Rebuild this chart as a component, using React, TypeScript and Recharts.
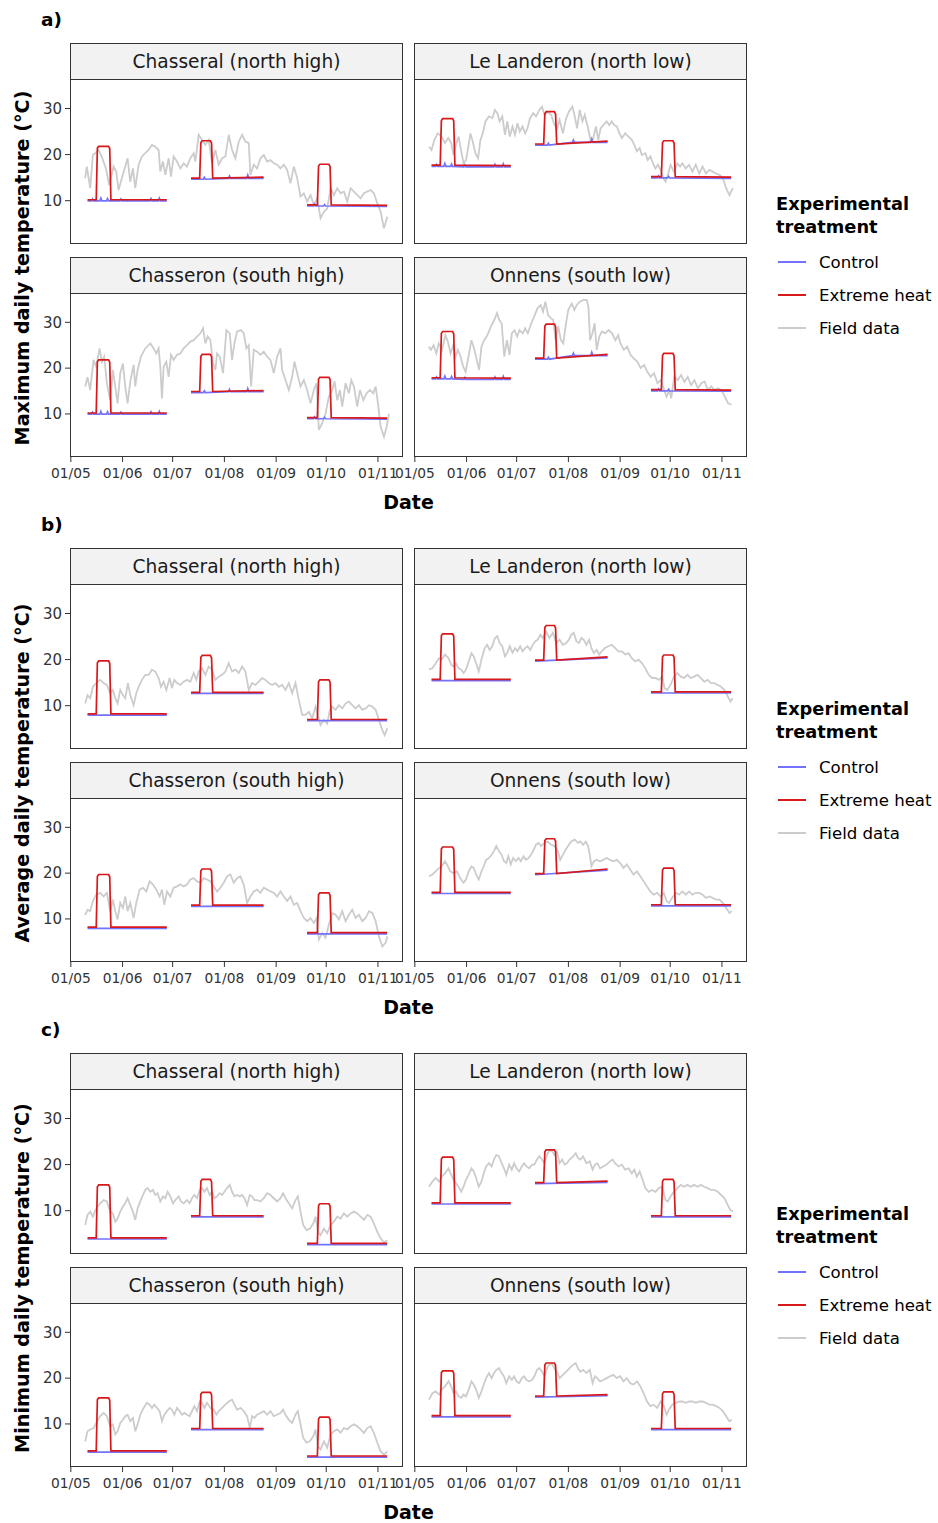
import React from "react";
import { LineChart, Line, XAxis, YAxis } from "recharts";

const FONT = "'DejaVu Sans', Verdana, sans-serif";

// ---------- axes ----------
const MONTH_TICKS = [0, 31, 61, 92, 123, 153, 184]; // days since 1 May
const MONTH_LABELS = ["01/05", "01/06", "01/07", "01/08", "01/09", "01/10", "01/11"];
const Y_TICKS = [10, 20, 30];
const X_DOMAIN: [number, number] = [-0.5, 199];
const Y_DOMAIN: [number, number] = [0.6, 36.4];

// ---------- labels ----------
const SITES = ["Chasseral (north high)", "Le Landeron (north low)", "Chasseron (south high)", "Onnens (south low)"];
const SECTION_TAGS = ["a)", "b)", "c)"];
const Y_TITLES = ["Maximum daily temperature (°C)", "Average daily temperature (°C)", "Minimum daily temperature (°C)"];
const LEGEND_TITLE = ["Experimental", "treatment"];
const SERIES_NAMES = ["Control", "Extreme heat", "Field data"];
const SERIES_COLORS = ["#7272ff", "#d7191c", "#cccccc"];

// ---------- experimental blocks (days since 1 May) ----------
const BLOCK_START = [10, 72, 141.5];
const BLOCK_END = [57.5, 115.5, 189.5];
const PULSE_ON = [15.5, 77.5, 148];
const PULSE_OFF = [24, 85, 156];

// per site: for each block [level at start, level at end, heat peak]
const MAX_LEVELS = [
  [[10.1, 10.1, 21.8], [14.8, 15.0, 23.0], [9.0, 8.9, 17.9]],
  [[17.6, 17.5, 27.8], [22.2, 22.8, 29.3], [15.1, 15.0, 23.0]],
  [[10.1, 10.1, 21.8], [14.8, 15.0, 23.0], [9.1, 9.0, 18.0]],
  [[17.8, 17.7, 28.0], [22.1, 22.9, 29.6], [15.2, 15.1, 23.2]],
];
const AVG_LEVELS = [
  [[8.1, 8.1, 19.7], [12.8, 12.8, 20.9], [6.9, 6.9, 15.6]],
  [[15.6, 15.6, 25.6], [19.8, 20.5, 27.4], [12.9, 12.9, 21.0]],
  [[8.1, 8.1, 19.7], [12.9, 12.9, 20.9], [6.9, 6.9, 15.7]],
  [[15.7, 15.7, 25.7], [19.8, 20.8, 27.5], [13.0, 13.0, 21.1]],
];
const MIN_LEVELS = [
  [[4.0, 4.0, 15.6], [8.8, 8.8, 16.8], [2.8, 2.8, 11.5]],
  [[11.6, 11.6, 21.6], [16.0, 16.3, 23.2], [8.8, 8.8, 16.8]],
  [[4.0, 4.0, 15.7], [8.9, 8.9, 16.9], [2.9, 2.9, 11.5]],
  [[11.7, 11.7, 21.6], [16.0, 16.3, 23.3], [8.9, 8.9, 17.0]],
];
// small day-to-day bumps of the control chambers in the maximum-temperature panels [day, °C above level]
const MAX_CONTROL_BUMPS = [[13, 0.4], [18, 0.6], [22, 0.5], [30, 0.4], [48, 0.5], [53, 0.6], [80, 0.4], [95, 0.5], [106, 0.7], [146, 0.4], [152, 0.3]];

// ---------- field data [day since 1 May, °C] ----------
const FIELD_MAX_CHASSERAL = [[8.6,14.9],[9.6,17.4],[11.6,12.7],[13.2,19.9],[14.6,20.3],[16.6,21],[18.6,19.5],[21,17],[23,13.4],[25.6,17.4],[27.2,16.3],[28.6,12.3],[30.6,14.9],[32.6,17.4],[34,19.2],[35.6,14.1],[37.2,17],[38.6,12.7],[40.6,17.8],[42.6,19.6],[44.6,20.3],[46.6,21],[48.6,22.1],[50.6,21.7],[52.6,21],[53.6,16.3],[55.2,18.5],[56.6,15.6],[58.6,19.2],[60,15.2],[61.6,19.6],[63.6,18.5],[65.6,17],[67.6,18.1],[69.6,17.4],[71.6,19.2],[73.6,20.3],[74.6,18.5],[76.6,24.3],[78.6,23.2],[80.6,22.1],[82.6,23.2],[84.6,18.1],[86.6,21],[88.6,17.8],[90.6,19.2],[92.6,19.6],[94.6,24.3],[96.6,21],[98.6,19.2],[100.6,22.8],[102.6,24.3],[104.6,22.8],[106.6,22.5],[107.6,15.6],[109.6,17.8],[111.6,17],[113.6,19.2],[115.6,19.9],[117.6,18.5],[119.6,18.8],[121.6,18.1],[123.6,17.8],[125.6,17],[127.6,17.8],[129.6,16.7],[131.6,13.8],[133.6,17.4],[135.6,14.9],[137.6,10.9],[139.6,11.6],[141.6,9.8],[143.6,11.2],[145.6,9.1],[147.6,10.5],[149.6,6.2],[151.6,7.6],[153.6,8.3],[155.6,12.7],[157.6,11.2],[159.6,12.7],[161.6,11.6],[163.6,12],[165.6,9.8],[167.6,12.7],[170.6,11.6],[173.6,10.5],[175.6,11.6],[177.6,12],[179.6,12.3],[181.6,11.6],[183.6,9.4],[185.6,7.6],[187.6,4],[189.6,6.5]];
const FIELD_MAX_LANDERON = [[8.5,21.7],[10,21],[11.7,23.2],[13.7,24.6],[16,23.9],[18,22.5],[20,23.6],[21.8,22.5],[23.2,19.9],[24.6,22.1],[26.2,23.9],[27.8,20.7],[29.2,18.1],[30.7,18.8],[31.9,21.4],[33.3,24.6],[34.7,22.8],[36.3,20.3],[37.9,19.2],[39.3,23.2],[40.7,24.6],[42.3,27.2],[44.4,28.3],[46.4,27.9],[48,29.7],[49.4,29],[50.8,27.2],[52.4,28.3],[54,24.3],[55.4,27.2],[56.9,23.9],[58.5,26.1],[60,24.3],[61.5,26.8],[62.9,25],[64.5,26.1],[66.1,24.6],[67.5,25.7],[69,27.9],[71,29],[72.6,28.3],[74.6,29.7],[76.2,30.4],[77.6,28.6],[79.6,29.3],[81.7,28.6],[83.7,26.4],[85.3,25.7],[86.7,27.5],[88.7,24.6],[90.7,27.9],[92.3,29.3],[94.4,30.4],[95.8,28.3],[97.2,25.7],[98.8,29.7],[100.4,27.2],[101.8,28.6],[103.8,25.7],[105.4,22.8],[106.9,23.6],[108.5,26.1],[109.9,23.2],[111.3,25.7],[112.9,26.4],[114.9,27.2],[116.5,26.4],[118,27.2],[119.4,26.4],[121,26.1],[122.6,24.6],[124,23.6],[126,24.6],[128,23.9],[130,23.2],[131.5,22.1],[133,20.7],[134.7,21.4],[136,19.9],[138.1,20.3],[139.5,18.8],[141.1,19.6],[142.7,18.1],[144.1,17],[145.6,17.8],[147.2,16.7],[148.8,14.9],[150.2,14.1],[151.6,15.6],[153.2,17.8],[155.2,16.3],[157.3,18.1],[158.9,17.4],[160.3,18.1],[162.3,17],[164.3,17.8],[166.3,16.3],[168.3,17.8],[170.4,15.9],[172.4,17.4],[174.4,15.9],[176.4,16.7],[178.4,16.3],[180.4,15.9],[182.5,15.6],[184.5,14.9],[186.5,12.7],[188.5,11.2],[190.5,12.7]];
const FIELD_MAX_CHASSERON = [[8.6,16],[10,18],[11.6,15.2],[13.6,21.8],[15.2,20.3],[17.2,24.3],[18.6,21.4],[20,22.5],[21.6,16.7],[23.6,13],[25.2,19.6],[26.6,16],[28,12.3],[29.6,18.9],[31.2,21],[32.6,16],[34,12.3],[35.6,17],[37.6,20.7],[38.6,16],[40,19.6],[42,22.5],[44.6,24.3],[47.6,25.4],[49.6,24.3],[51.2,23.2],[52.6,24.3],[53.6,20.3],[54.6,13.4],[55.6,20.3],[57.2,21.4],[58.6,18.1],[60,22.9],[61.6,21.8],[63.6,22.9],[65.6,23.2],[67.6,24.3],[69.6,25],[71.6,25.8],[73.6,26.1],[75.6,26.9],[77.6,27.6],[79.2,28.7],[80.6,25.4],[82,26.9],[83.6,26.1],[85.2,21],[86.6,19.6],[87.6,23.2],[89.2,22.5],[91.2,18.9],[93.2,28.3],[95.2,27.6],[96.6,21.8],[98,25.4],[99.6,28],[102,28.3],[103.6,27.6],[105.2,24.3],[106.6,25],[108,16],[109.6,24],[111.6,23.6],[113.6,22.9],[115.6,23.6],[117.6,22.5],[119.6,21.8],[121.6,18.9],[123.6,22.5],[125.6,24.3],[126.6,19.6],[128.6,17.4],[130.6,15.2],[132.6,18.1],[134,21.4],[135.6,18.9],[137.6,16],[139.6,17.4],[141.6,15.2],[143.6,12.3],[145.6,15.2],[147.2,16.7],[148.6,6.5],[150.6,8],[152.6,10.1],[154.6,13.8],[156.6,15.2],[158,17.1],[159.6,13],[161.2,15.2],[162.6,11.6],[164.6,16.7],[166.6,14.5],[168,17.4],[169.6,16],[171.6,11.6],[173.2,15.2],[175.2,13],[177.2,14.5],[179.2,15.2],[181.2,14.5],[182.6,16],[184,12.3],[185.6,7.2],[187.6,5],[189.2,7.2],[190.6,10]];
const FIELD_MAX_ONNENS = [[8.3,24.7],[9.7,24],[11.3,25],[12.9,23.2],[14.3,25.4],[16.3,24],[18.3,27.2],[19.8,25.8],[21.4,23.2],[23,25],[24.4,22.5],[25.8,24],[27.4,22.5],[29,20.3],[30.4,19.2],[32.5,23.2],[33.9,26.1],[35.5,24.3],[37.1,21.8],[38.5,19.6],[39.9,24.7],[41.5,26.1],[43.5,27.2],[45.6,29.1],[47.6,30.5],[49.2,32],[50.6,30.5],[52,29.8],[53.6,22.5],[55.2,26.1],[56.7,22.9],[58.1,27.6],[59.7,28.3],[61.3,26.9],[62.7,28.3],[64.7,27.6],[66.1,28.7],[67.7,27.6],[69.8,29.8],[71.4,31.2],[73.4,33],[75.4,33.8],[76.8,32.3],[78.2,34.5],[79.8,31.6],[81.5,30.9],[82.9,30.5],[84.3,26.1],[85.9,29.1],[87.5,26.1],[88.9,25.4],[90.3,29.1],[91.9,32.7],[94,34.1],[95.6,32.7],[97,33.8],[99,34.5],[101,34.9],[103,34.9],[104,33.4],[105,26.1],[106.4,27.6],[107.7,29.8],[109,24],[110.5,26.9],[112.1,28],[114.1,27.6],[116.1,28.3],[118.1,27.6],[120.2,26.1],[121.8,27.2],[123.2,25.4],[125.2,24],[127.2,24.7],[129.2,22.9],[131.3,22.1],[133.3,21.4],[135.3,20],[137.3,20.7],[139.3,19.2],[141.3,18.1],[143.3,18.9],[145.4,16.7],[147.4,17.4],[149.4,15.2],[150.8,13.8],[152.4,15.2],[153.6,13.4],[155.4,18.1],[157.5,17.4],[159.5,18.5],[161.5,17],[163.5,18.1],[165.5,16.3],[167.5,17.4],[169.6,15.6],[171.6,16.7],[173.6,17.1],[175.6,15.2],[177.6,16],[179.6,15.2],[181.7,15.6],[183.7,15.2],[185.7,13.8],[187.7,12.3],[189.7,12]];

const FIELD_AVG_CHASSERAL = [[8.6,10.5],[10,12.3],[11.6,11.6],[13.2,14.1],[15.2,14.9],[17.6,15.6],[19.6,14.9],[21.6,14.5],[23.6,12.7],[25.2,13.4],[26.6,11.6],[28,10.5],[29.6,13.4],[31.2,12.3],[32.6,11.6],[34.2,14.9],[35.6,12.3],[37.6,10.1],[39.2,12.7],[40.6,14.1],[42.6,15.6],[44.6,16.7],[46.6,16.7],[48.6,17.8],[50.6,17.4],[52.6,16],[54,14.1],[55.6,15.2],[57.2,13.4],[59.2,16],[60.6,13.8],[62,15.6],[63.6,14.9],[65.6,14.5],[67.6,15.2],[69.6,15.6],[71.6,15.2],[73.6,17.1],[75.2,15.6],[76.6,17.4],[78.6,18.1],[80.6,16.7],[82.6,18.5],[84.6,17.8],[86.6,15.6],[88.6,16.3],[90.6,16.7],[92.6,17.4],[94.6,19.2],[96.6,17.4],[98.6,17.8],[100.6,17.1],[102.6,18.5],[104.6,17.4],[106.6,13.4],[108.6,14.9],[110.6,14.5],[112.6,15.2],[114.6,16],[116.6,15.6],[118.6,14.9],[120.6,14.5],[122.6,14.9],[124.6,14.1],[126.6,14.5],[128.6,13.4],[130.6,14.9],[132.6,12.7],[134.6,14.9],[136.6,11.2],[138.6,8],[140.6,8],[142.6,8.7],[144.6,7.2],[146.6,9.8],[148,8],[149.6,5.8],[151.6,6.9],[153.6,6.1],[155.2,9.1],[156.6,9.8],[158.6,9.1],[160.6,10.1],[162.6,9.4],[164.6,10.5],[166.6,10.9],[168.6,10.1],[170.6,9.4],[172.6,10.1],[174.6,9.1],[176.6,9.4],[178.6,10.1],[180.6,9.8],[182.6,9.1],[184.6,6.9],[186.6,4.7],[188,3.6],[189.6,5.1]];
const FIELD_AVG_LANDERON = [[8.5,17.9],[10.5,18.1],[12.5,19.2],[14.5,20.3],[16.1,20],[18.1,21.1],[20.2,20.3],[21.8,18.9],[23.2,18.5],[24.6,19.2],[26.2,18.1],[27.8,17.8],[29.2,17.1],[30.6,17.8],[32.3,19.6],[33.9,21.4],[35.3,20.7],[36.7,19.2],[38.3,17.4],[39.9,20],[41.9,22.5],[43.3,23.2],[44.8,22.1],[46.4,22.9],[48,24.7],[49.4,25.1],[50.8,23.6],[52.4,22.9],[54,20.7],[55.4,21.5],[56.9,22.9],[58.5,21.5],[60.1,22.5],[61.5,21.8],[63.1,22.9],[64.5,21.8],[66.1,22.5],[67.5,22.9],[69.2,22.1],[70.6,23.2],[72.2,24],[73.6,24.3],[75.2,25.4],[76.6,24.7],[78.6,26.1],[80.6,24.7],[82.7,25.8],[84.7,23.6],[86.7,24.3],[88.7,23.2],[90.7,23.6],[92.3,24.3],[93.8,25.4],[95.2,25.8],[96.8,24],[98.4,23.6],[99.8,24.7],[101.2,24.3],[102.8,23.2],[104.4,24.3],[105.8,22.5],[107.3,21.4],[108.9,22.1],[110.5,21.1],[111.9,21.8],[113.9,22.5],[115.9,22.9],[118,23.2],[120,22.5],[122,21.8],[124,21.8],[126,21.1],[128,21.4],[130,20.3],[132,19.6],[134.1,20],[136.1,19.2],[138.1,18.1],[140.1,16.7],[142.1,16],[144.2,16],[146.2,15.6],[148.2,16.3],[149.6,13.8],[151.2,13.4],[153.2,14.5],[155.2,16.3],[157.3,17.1],[159.3,16.3],[161.3,16],[163.3,16.7],[165.3,16],[167.3,16.3],[169.4,16.7],[171.4,16],[173.4,15.2],[175.4,15.6],[177.4,14.9],[179.4,14.9],[181.5,14.5],[183.5,14.1],[185.5,13.4],[187.5,12],[189.1,10.9],[190.5,11.6]];
const FIELD_AVG_CHASSERON = [[8.6,10.9],[10,12],[11.6,11.7],[13.2,13.9],[15.2,15.3],[17.6,15.7],[19.6,14.9],[21.6,15.7],[23.6,11.7],[25.2,14.2],[26.6,11.7],[28,9.9],[29.6,13.5],[31.2,12.4],[32.6,14.9],[34,11.7],[35.6,13.5],[37.6,10.2],[39.2,13.5],[41.2,16.4],[43.2,16.8],[45.2,16],[47.2,18.2],[49.2,17.5],[51.2,16.4],[53.2,14.9],[54.6,16.4],[56,13.1],[57.6,16],[59.6,14.9],[61.6,16.8],[63.6,17.1],[65.6,17.5],[67.6,17.1],[69.6,17.5],[71.6,18.6],[73.6,18.9],[75.6,18.2],[77.6,17.9],[79.6,18.9],[81.6,18.6],[83.6,18.2],[85.6,17.1],[87.6,16],[89.6,16.8],[91.6,17.9],[93.6,19.3],[95.6,19.7],[97.6,17.9],[99.6,18.9],[101.6,19.3],[103.6,17.5],[105.6,13.5],[107.6,14.9],[109.6,16],[111.6,16.4],[113.6,15.7],[115.6,16.8],[117.6,16.4],[119.6,16],[121.6,15.7],[123.6,14.9],[125.6,16],[127.6,14.9],[129.6,13.9],[131.6,14.9],[133.6,13.1],[135.6,13.5],[137.6,11.7],[139.6,10.2],[141.6,9.5],[143.6,10.2],[145.6,9.1],[147.2,10.2],[148.6,5.5],[150.6,6.9],[152.6,5.9],[154.6,8.8],[156.6,11.3],[158.6,10.9],[160.6,9.9],[162.6,11.7],[164.6,9.5],[166.6,10.9],[168.6,12],[170.6,10.2],[172.6,10.9],[174.6,9.5],[176.6,10.2],[178.6,11.7],[180.6,11.3],[182.6,9.5],[184.6,6.2],[186.6,4],[188.6,4.8],[189.6,6.2]];
const FIELD_AVG_ONNENS = [[8.5,19.3],[10.5,19.7],[12.5,20.4],[14.5,21.1],[16.1,21.5],[18.1,22.6],[19.8,21.5],[21.2,20.4],[23.2,20],[25.2,20.4],[27.2,18.9],[29.2,17.9],[30.6,18.6],[32.3,20.4],[33.9,21.5],[35.3,21.1],[36.7,19.7],[38.3,18.6],[39.9,20.4],[41.3,21.5],[42.7,22.9],[44.4,23.3],[46,24],[47.4,24.8],[48.8,25.9],[50.4,24.8],[52,24],[53.4,22.6],[54.8,22.2],[56,23.7],[57.5,21.9],[58.9,23.3],[60.5,22.6],[62.1,23.3],[63.5,22.6],[65.1,23.7],[66.5,22.9],[68.1,23.3],[69.6,24],[71.2,25.1],[72.6,26.2],[74.2,26.6],[75.6,25.9],[77.6,26.6],[79.6,26.9],[81.7,26.2],[83.7,25.9],[85.7,24.8],[87.1,22.9],[88.7,24],[90.3,25.1],[92.3,26.2],[93.7,26.9],[95.8,27.3],[97.8,26.6],[99.2,26.9],[100.8,26.2],[102.4,26.9],[103.8,25.9],[104.8,24],[105.8,21.5],[107.3,22.6],[108.9,22.9],[110.9,22.6],[112.9,22.9],[114.9,23.3],[116.9,22.9],[119,22.6],[121,22.9],[123,22.2],[125,21.1],[127,21.9],[129,20.8],[131,19.7],[133.1,20.4],[135.1,19.3],[137.1,18.2],[139.1,17.1],[141.1,16],[143.1,15.3],[145.2,15.7],[147.2,14.9],[149.2,15.7],[150.8,13.9],[152.2,13.5],[154.2,14.6],[156.3,15.7],[158.3,15.3],[160.3,16],[162.3,15.3],[164.3,16],[166.3,15.3],[168.3,15.7],[170.4,15.7],[172.4,15.3],[174.4,14.6],[176.4,14.9],[178.4,14.6],[180.4,14.2],[182.5,14.2],[184.5,13.5],[186.5,12.4],[188.5,11.3],[189.9,11.7]];

const FIELD_MIN_CHASSERAL = [[8.6,6.9],[10,9.1],[11.6,9.8],[13.2,8.7],[15.2,10.5],[17.6,11.6],[19.6,12.3],[21.6,12],[23.6,9.8],[25.2,9.4],[26.6,7.6],[28,8.3],[29.6,9.8],[31.2,10.9],[32.6,11.6],[34,12.7],[35.6,11.2],[37.2,9.8],[38.6,8],[40,10.5],[41.6,12],[43.2,13.4],[44.6,14.5],[46,14.9],[47.6,14.1],[49.2,14.5],[50.6,13.4],[52,13.8],[53.6,12],[55.2,13.1],[56.6,12.7],[58,14.1],[59.6,13.1],[61.2,11.6],[62.6,12.3],[64.6,13.1],[66,12],[67.6,11.6],[69.6,12.3],[71.2,11.6],[72.6,12.7],[74,13.4],[75.6,12.7],[77.2,14.5],[78.6,14.9],[80,14.1],[81.6,14.9],[83.2,13.4],[84.6,14.1],[86,12.7],[87.6,13.1],[89.2,13.8],[90.6,13.4],[92,14.1],[93.6,14.9],[95.2,15.6],[96.6,14.1],[98,13.1],[99.6,13.4],[101.2,13.1],[102.6,13.4],[104,12.7],[105.6,11.2],[107.2,13.4],[108.6,13.1],[110,12.3],[111.6,12.3],[113.6,12],[115.6,12.7],[117.6,13.8],[119.6,13.4],[121.6,12.7],[123.6,12],[125.6,12.7],[127.2,13.8],[128.6,12.7],[130.6,11.6],[132.6,10.5],[134.6,12.3],[136,13.1],[137.6,9.8],[139.2,6.9],[141.2,5.8],[143.2,6.1],[145.2,7.2],[146.6,8.7],[148,5.4],[149.6,4.7],[151.6,6.1],[153.6,5.1],[155.6,6.9],[157.6,7.6],[159.6,8.7],[161.6,8.3],[163.6,9.4],[165.6,8.7],[167.6,9.4],[169.6,9.8],[171.6,9.4],[173.6,8.7],[175.6,8],[177.6,9.1],[179.6,8.7],[181.6,7.2],[183.6,5.4],[185.6,4],[187.6,3.1],[189.6,3.6]];
const FIELD_MIN_LANDERON = [[8.5,15.2],[10.5,16.3],[12.5,17.1],[14.5,16.3],[16.1,17.4],[18.1,18.1],[20.2,19.2],[21.8,17.8],[23.2,16.7],[24.6,16],[26.2,15.2],[27.8,14.1],[29.2,15.2],[30.6,16.7],[32.3,17.8],[33.9,19.2],[35.3,18.5],[36.7,17.1],[38.3,15.2],[39.9,16.3],[41.3,18.1],[42.7,19.6],[44.4,20.3],[46,19.6],[47.4,21.1],[48.8,22.1],[50.4,21.8],[52,20.3],[53.4,19.2],[54.8,17.8],[56.5,20],[58.1,18.9],[59.5,20.3],[60.9,19.2],[62.5,18.5],[64.1,19.6],[65.5,20.3],[66.9,19.6],[68.5,19.2],[70.2,20],[71.6,20],[73.2,21.1],[74.6,21.8],[76.2,21.1],[77.6,20.3],[79.6,22.5],[81.7,23.2],[83.7,22.1],[85.1,22.9],[86.7,20.3],[88.3,21.1],[89.7,20],[91.1,20.3],[92.7,21.1],[94.8,21.8],[96.4,22.5],[97.8,21.4],[99.2,21.1],[100.8,21.8],[102.8,20.3],[104.8,20.7],[106.5,18.9],[107.9,20],[109.3,20.3],[110.9,19.2],[112.9,19.6],[114.9,20],[116.9,20.7],[118.5,21.1],[119.9,20.3],[122,19.6],[124,20],[126,18.9],[128,19.2],[130,18.1],[131.5,18.9],[133,17.4],[134.7,18.5],[136.1,17.1],[138.1,14.9],[140.1,14.1],[142.1,14.5],[144.2,14.1],[146.2,14.9],[148.2,15.2],[150.2,12.3],[151.6,12],[153.2,13.1],[155.2,14.1],[157.3,14.9],[159.3,15.6],[161.3,15.2],[163.3,15.6],[165.3,15.2],[167.3,15.6],[169.4,15.2],[171.4,15.6],[173.4,15.2],[175.4,14.9],[177.4,14.5],[179.4,14.5],[181.5,14.1],[183.5,13.4],[185.5,12.7],[187.5,11.2],[189.1,10.1],[190.5,9.8]];
const FIELD_MIN_CHASSERON = [[8.6,6.2],[10,8.4],[11.6,8.8],[13.6,9.1],[15.2,10.2],[17.6,11.7],[19.6,12.4],[21.6,11.7],[23.6,9.5],[25.2,9.9],[26.6,7.7],[28,8.4],[29.6,10.2],[31.2,10.9],[32.6,11.7],[34,12],[35.6,10.6],[37.2,11.3],[38.6,8.4],[40,9.9],[41.6,12],[43.6,13.5],[45.6,14.6],[47.2,14.2],[48.6,13.5],[50,14.2],[51.6,13.5],[53.2,12.8],[54.6,10.6],[56,12],[57.6,12.8],[59.2,13.5],[60.6,13.1],[62,12],[63.6,13.5],[65.2,12.8],[66.6,12],[68,12.4],[69.6,12],[71.2,11.7],[72.6,12.8],[74,13.9],[75.6,12.8],[77.2,14.9],[78.6,14.6],[80,13.5],[81.6,14.6],[83.6,13.5],[85.6,13.1],[87.2,12],[88.6,12.8],[90.6,13.5],[92.6,14.2],[94.6,14.9],[96.6,15.3],[98,14.2],[99.6,13.1],[101.6,13.5],[103.6,12.8],[105.6,11.7],[107.2,9.1],[108.6,11.7],[110,11.3],[111.6,12],[113.6,12.4],[115.6,12.8],[117.6,12],[119.6,12.8],[121.6,11.7],[123.6,12],[125.6,12.4],[127.2,13.1],[128.6,12],[130.6,10.9],[132.6,10.2],[134.6,12],[136,12.8],[137.6,9.9],[139.2,7],[141.2,5.9],[143.2,6.2],[145.2,7.3],[146.6,8.8],[148,5.1],[149.6,4.4],[151.6,6.2],[153.6,4.8],[155.6,7.7],[157.6,8.4],[159.6,8.8],[161.6,8.1],[163.6,9.1],[165.6,8.8],[167.6,9.5],[169.6,9.9],[171.6,9.5],[173.6,8.8],[175.6,8],[177.6,9.1],[179.6,9.5],[181.6,8],[183.6,5.9],[185.6,4],[187.6,3.3],[189.6,4]];
const FIELD_MIN_ONNENS = [[8.5,15.3],[10.5,16.7],[12.5,17.1],[14.5,16.4],[16.1,17.5],[18.1,18.2],[20.2,19.3],[21.8,18.2],[23.2,16.7],[24.6,17.1],[26.2,16],[27.8,15.7],[29.2,16.4],[30.6,16],[32.3,17.5],[33.9,19.3],[35.3,18.6],[36.7,17.5],[38.3,15.7],[39.9,17.1],[41.3,18.6],[42.7,20],[44.4,21.1],[46,20],[47.4,21.1],[48.8,21.8],[50.4,22.2],[52,21.1],[53.4,20.4],[54.8,18.9],[56.5,20.4],[58.1,19.6],[59.5,20.4],[60.9,19.3],[62.5,18.9],[64.1,20],[65.5,20.4],[66.9,19.6],[68.5,19.3],[70.2,19.6],[71.6,20.4],[73.2,21.8],[74.6,22.2],[76.2,21.4],[77.6,20.4],[79.6,22.5],[81.7,23.3],[83.7,22.1],[85.1,21.4],[86.7,20],[88.7,20.7],[90.7,21.4],[92.7,22.2],[94.8,22.9],[96.4,23.3],[97.8,22.1],[99.2,21.4],[100.8,21.8],[102.8,21.1],[104.8,21.8],[106.5,18.9],[107.9,20.4],[109.3,20],[110.9,19.3],[112.9,19.6],[114.9,20],[116.9,20.4],[118.9,20.7],[121,20],[123,20.4],[125,19.3],[127,20],[129,18.9],[131,18.6],[133.1,19.3],[135.1,18.2],[137.1,16.7],[139.1,14.9],[141.1,13.9],[143.1,14.2],[145.2,13.5],[147.2,14.9],[149.2,13.9],[150.8,12],[152.2,13.1],[154.2,14.2],[156.3,14.6],[158.3,14.9],[160.3,14.9],[162.3,14.6],[164.3,14.9],[166.3,14.9],[168.3,14.6],[170.4,14.9],[172.4,14.9],[174.4,14.6],[176.4,14.2],[178.4,14.2],[180.4,13.9],[182.5,13.5],[184.5,12.8],[186.5,11.7],[188.5,10.6],[189.9,10.9]];

const SECTION_FIELDS = [
  [FIELD_MAX_CHASSERAL, FIELD_MAX_LANDERON, FIELD_MAX_CHASSERON, FIELD_MAX_ONNENS],
  [FIELD_AVG_CHASSERAL, FIELD_AVG_LANDERON, FIELD_AVG_CHASSERON, FIELD_AVG_ONNENS],
  [FIELD_MIN_CHASSERAL, FIELD_MIN_LANDERON, FIELD_MIN_CHASSERON, FIELD_MIN_ONNENS],
];
const SECTION_LEVELS = [MAX_LEVELS, AVG_LEVELS, MIN_LEVELS];
const SECTION_BUMPS = [MAX_CONTROL_BUMPS, [], []];

type Pt = { x: number; y: number | null };

function buildControl(levels: number[][], bumps: number[][]): Pt[] {
  const out: Pt[] = [];
  levels.forEach((lv, b) => {
    const base = (x: number) => (x < PULSE_OFF[b] ? lv[0] : lv[1]) - 0.15;
    out.push({ x: BLOCK_START[b], y: lv[0] - 0.15 });
    bumps
      .filter(([d]) => d > BLOCK_START[b] + 1 && d < BLOCK_END[b] - 1)
      .forEach(([d, h]) => {
        out.push({ x: d - 0.6, y: base(d) });
        out.push({ x: d, y: base(d) + h });
        out.push({ x: d + 0.6, y: base(d) });
      });
    out.push({ x: BLOCK_END[b], y: lv[1] - 0.15 });
    out.push({ x: BLOCK_END[b] + 1, y: null });
  });
  return out;
}

function buildHeat(levels: number[][]): Pt[] {
  const out: Pt[] = [];
  levels.forEach((lv, b) => {
    const [l0, l1, pk] = lv;
    out.push({ x: BLOCK_START[b], y: l0 + 0.1 });
    out.push({ x: PULSE_ON[b] - 0.3, y: l0 + 0.1 });
    out.push({ x: PULSE_ON[b] + 0.4, y: pk - 0.4 });
    out.push({ x: PULSE_ON[b] + 1.2, y: pk });
    out.push({ x: PULSE_OFF[b] - 1.4, y: pk });
    out.push({ x: PULSE_OFF[b] - 0.7, y: pk - 0.5 });
    out.push({ x: PULSE_OFF[b], y: l0 + 0.1 });
    out.push({ x: BLOCK_END[b], y: l1 + 0.1 });
    out.push({ x: BLOCK_END[b] + 1, y: null });
  });
  return out;
}

const toPts = (arr: number[][]): Pt[] => arr.map(([x, y]) => ({ x, y }));

// ---------- layout ----------
const SECTION_TOP = [0, 505, 1010];
const COL_LEFT = [70, 414];
const PANEL_W = 333;
const ROW_TOP = [79, 293];
const PANEL_H = [165, 164];
const STRIP_H = 37;
const Y_AXIS_W = 40;
const X_AXIS_H = 32;
const RIGHT_PAD = 24;
const INK = "#333333";

function Facet({ field, levels, bumps, col, row, top }: any) {
  const showY = col === 0;
  const showX = row === 1;
  const yw = showY ? Y_AXIS_W : 0;
  const padL = showY ? 0 : RIGHT_PAD;
  const xh = showX ? X_AXIS_H : 0;
  const lead = yw + padL;
  const w = PANEL_W + lead;
  const h = PANEL_H[row] + xh;
  const tickStyle = { fill: INK, fontSize: 13.8, fontFamily: FONT };
  return (
    <div style={{ position: "absolute", left: COL_LEFT[col] - lead, top, width: w, height: h }}>
      <LineChart width={w} height={h} margin={{ top: 0, right: 0, bottom: 0, left: padL }} style={{ overflow: "visible" }}>
        <XAxis
          type="number"
          dataKey="x"
          domain={X_DOMAIN}
          ticks={MONTH_TICKS}
          allowDataOverflow
          hide={!showX}
          height={xh}
          interval={0}
          tickFormatter={(v: number) => MONTH_LABELS[MONTH_TICKS.indexOf(v)]}
          tick={tickStyle}
          tickSize={5}
          tickMargin={6}
          axisLine={false}
          tickLine={{ stroke: INK }}
        />
        <YAxis
          type="number"
          domain={Y_DOMAIN}
          ticks={Y_TICKS}
          allowDataOverflow
          hide={!showY}
          width={yw}
          interval={0}
          tick={{ ...tickStyle, fontSize: 15 }}
          tickSize={5}
          tickMargin={3}
          axisLine={false}
          tickLine={{ stroke: INK }}
        />
        <Line data={toPts(field)} dataKey="y" stroke={SERIES_COLORS[2]} strokeWidth={1.8} dot={false} isAnimationActive={false} />
        <Line data={buildControl(levels, bumps)} dataKey="y" stroke={SERIES_COLORS[0]} strokeWidth={1.7} dot={false} isAnimationActive={false} />
        <Line data={buildHeat(levels)} dataKey="y" stroke={SERIES_COLORS[1]} strokeWidth={1.7} dot={false} isAnimationActive={false} />
      </LineChart>
      <div
        style={{
          position: "absolute", left: lead, top: 0, width: PANEL_W, height: PANEL_H[row],
          border: `1px solid ${INK}`, boxSizing: "border-box", pointerEvents: "none",
        }}
      />
    </div>
  );
}

function Section({ s }: { s: number }) {
  const off = SECTION_TOP[s];
  const items: React.ReactNode[] = [];
  for (let i = 0; i < 4; i++) {
    const col = i % 2;
    const row = Math.floor(i / 2);
    const pTop = off + ROW_TOP[row];
    items.push(
      <div
        key={"s" + i}
        style={{
          position: "absolute", left: COL_LEFT[col], top: pTop - STRIP_H + 1, width: PANEL_W, height: STRIP_H,
          background: "#f2f2f2", border: `1px solid ${INK}`, boxSizing: "border-box",
          display: "flex", alignItems: "center", justifyContent: "center",
          fontFamily: FONT, fontSize: 18.6, color: "#1a1a1a", whiteSpace: "nowrap",
        }}
      >
        {SITES[i]}
      </div>
    );
    items.push(
      <Facet key={"f" + i} field={SECTION_FIELDS[s][i]} levels={SECTION_LEVELS[s][i]} bumps={SECTION_BUMPS[s]} col={col} row={row} top={pTop} />
    );
  }
  const centerY = off + (ROW_TOP[0] + ROW_TOP[1] + PANEL_H[1]) / 2;
  return (
    <>
      <div style={{ position: "absolute", left: 41, top: off + 19, transform: "translateY(-50%)", fontFamily: FONT, fontWeight: "bold", fontSize: 18.5, color: "#000" }}>
        {SECTION_TAGS[s]}
      </div>
      {items}
      <div
        style={{
          position: "absolute", left: 22, top: centerY, transform: "translate(-50%, -50%) rotate(-90deg)",
          fontFamily: FONT, fontWeight: "bold", fontSize: 19.2, color: "#000", whiteSpace: "nowrap",
        }}
      >
        {Y_TITLES[s]}
      </div>
      <div
        style={{
          position: "absolute", left: 408.5, top: off + 502, transform: "translate(-50%, -50%)",
          fontFamily: FONT, fontWeight: "bold", fontSize: 19, color: "#000",
        }}
      >
        Date
      </div>
      {LEGEND_TITLE.map((t, k) => (
        <div key={"lt" + k} style={{ position: "absolute", left: 776, top: off + 203 + k * 23, transform: "translateY(-50%)", fontFamily: FONT, fontWeight: "bold", fontSize: 17.8, color: "#000", whiteSpace: "nowrap" }}>
          {t}
        </div>
      ))}
      {SERIES_NAMES.map((n, k) => (
        <React.Fragment key={"li" + k}>
          <div style={{ position: "absolute", left: 778, top: off + 262 + k * 33 - 1, width: 28, height: 1.7, background: SERIES_COLORS[k] }} />
          <div style={{ position: "absolute", left: 819, top: off + 262 + k * 33, transform: "translateY(-50%)", fontFamily: FONT, fontSize: 16.6, color: "#000", whiteSpace: "nowrap" }}>
            {n}
          </div>
        </React.Fragment>
      ))}
    </>
  );
}

export default function App() {
  return (
    <div style={{ position: "absolute", left: 0, top: 0, width: 938, height: 1523, background: "#fff", overflow: "hidden" }}>
      <Section s={0} />
      <Section s={1} />
      <Section s={2} />
    </div>
  );
}
